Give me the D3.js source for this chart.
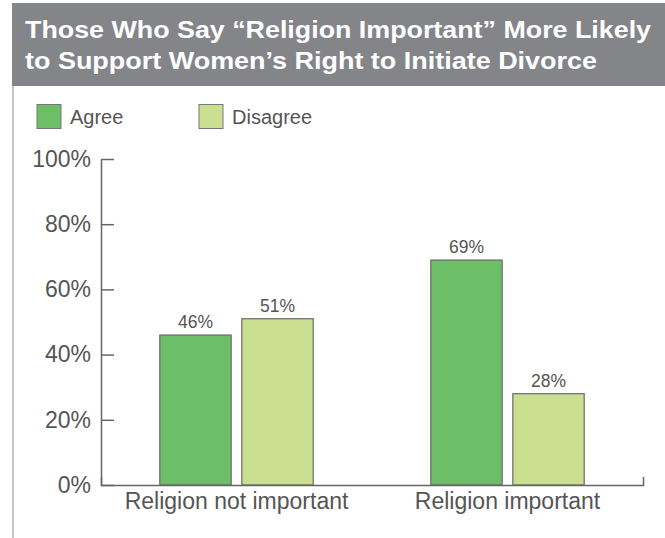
<!DOCTYPE html>
<html>
<head>
<meta charset="utf-8">
<script src="https://cdn.jsdelivr.net/npm/d3@7"></script>
<style>
  body { margin: 0; background: #fff; }
  svg { display: block; font-family: "Liberation Sans", Arial, Helvetica, sans-serif; }
</style>
</head>
<body>
<div class="canvas"></div>
<script>
// chart data
const titleLines = ['Those Who Say \u201cReligion Important\u201d More Likely', 'to Support Women\u2019s Right to Initiate Divorce'];
const categories = ['Religion not important', 'Religion important'];
const seriesNames = ['Agree', 'Disagree'];
const agreeValues = [46, 69];
const disagreeValues = [51, 28];
const yTicks = [0, 20, 40, 60, 80, 100];

const colors = { Agree: '#6dbf67', Disagree: '#cadf8f' };

const width = 665;
const height = 538;
const margin = { top: 159, right: 22, bottom: 53, left: 101 };
const graphWidth = width - margin.left - margin.right;
const graphHeight = height - margin.top - margin.bottom;

const svg = d3.select('.canvas').append('svg')
  .attr('width', width)
  .attr('height', height);

// title band
svg.append('rect')
  .attr('x', 12).attr('y', 3)
  .attr('width', width - 12).attr('height', 83)
  .attr('fill', '#848589');

// title is set in a wide heavy face, so stretch to the original line widths
const titleWidths = [626, 572];
svg.selectAll('.title')
  .data(titleLines)
  .enter().append('text')
    .attr('class', 'title')
    .attr('x', 25)
    .attr('y', (d, i) => 37.5 + i * 31.5)
    .attr('fill', '#fff')
    .attr('font-size', 24)
    .attr('font-weight', 'bold')
    .attr('textLength', (d, i) => titleWidths[i])
    .attr('lengthAdjust', 'spacingAndGlyphs')
    .text(d => d);

// left frame line
svg.append('line')
  .attr('x1', 13).attr('x2', 13)
  .attr('y1', 86).attr('y2', height)
  .attr('stroke', '#b0b0b0')
  .attr('stroke-width', 1.5);

// legend
const legend = svg.append('g').attr('class', 'legend');
const legendX = [37, 199];
seriesNames.forEach((name, i) => {
  legend.append('rect')
    .attr('x', legendX[i]).attr('y', 104.5)
    .attr('width', 24).attr('height', 24)
    .attr('fill', colors[name])
    .attr('stroke', '#777')
    .attr('stroke-width', 1);
  legend.append('text')
    .attr('x', legendX[i] + 33)
    .attr('y', 124)
    .attr('font-size', 20)
    .attr('fill', '#555')
    .text(name);
});

const graph = svg.append('g')
  .attr('transform', `translate(${margin.left},${margin.top})`);

// scales
const x0 = d3.scaleBand()
  .domain(categories)
  .range([0, graphWidth])
  .paddingInner(0.434)
  .paddingOuter(0.217);

const x1 = d3.scaleBand()
  .domain(seriesNames)
  .range([0, x0.bandwidth()])
  .paddingInner(0.13);

const y = d3.scaleLinear()
  .domain([0, 100])
  .range([graphHeight, 0]);

const rows = categories.map((c, i) => ({
  category: c,
  values: [
    { series: 'Agree', value: agreeValues[i] },
    { series: 'Disagree', value: disagreeValues[i] }
  ]
}));

// bars
const groups = graph.selectAll('.group')
  .data(rows)
  .enter().append('g')
    .attr('class', 'group')
    .attr('transform', d => `translate(${x0(d.category)},0)`);

groups.selectAll('rect')
  .data(d => d.values)
  .enter().append('rect')
    .attr('x', d => x1(d.series))
    .attr('y', d => y(d.value))
    .attr('width', x1.bandwidth())
    .attr('height', d => graphHeight - y(d.value))
    .attr('fill', d => colors[d.series])
    .attr('stroke', '#6a6a6a')
    .attr('stroke-width', 1.2);

groups.selectAll('.value')
  .data(d => d.values)
  .enter().append('text')
    .attr('class', 'value')
    .attr('x', d => x1(d.series) + x1.bandwidth() / 2)
    .attr('y', d => y(d.value) - 7)
    .attr('text-anchor', 'middle')
    .attr('font-size', 17.5)
    .attr('fill', '#555')
    .text(d => d.value + '%');

// axes
const yAxis = d3.axisLeft(y)
  .tickValues(yTicks)
  .tickSize(-13)
  .tickSizeOuter(0)
  .tickPadding(10)
  .tickFormat(d => d + '%');

const xAxis = d3.axisBottom(x0)
  .tickSize(0)
  .tickSizeOuter(-8)
  .tickPadding(8);

const yAxisGroup = graph.append('g').attr('class', 'y-axis').call(yAxis);
const xAxisGroup = graph.append('g').attr('class', 'x-axis')
  .attr('transform', `translate(0,${graphHeight})`)
  .call(xAxis);

[yAxisGroup, xAxisGroup].forEach(g => {
  g.attr('font-family', null).attr('font-size', 23);
  g.selectAll('path, line').attr('stroke', '#666').attr('stroke-width', 1.5);
  g.selectAll('text').attr('fill', '#555');
});
</script>
</body>
</html>
